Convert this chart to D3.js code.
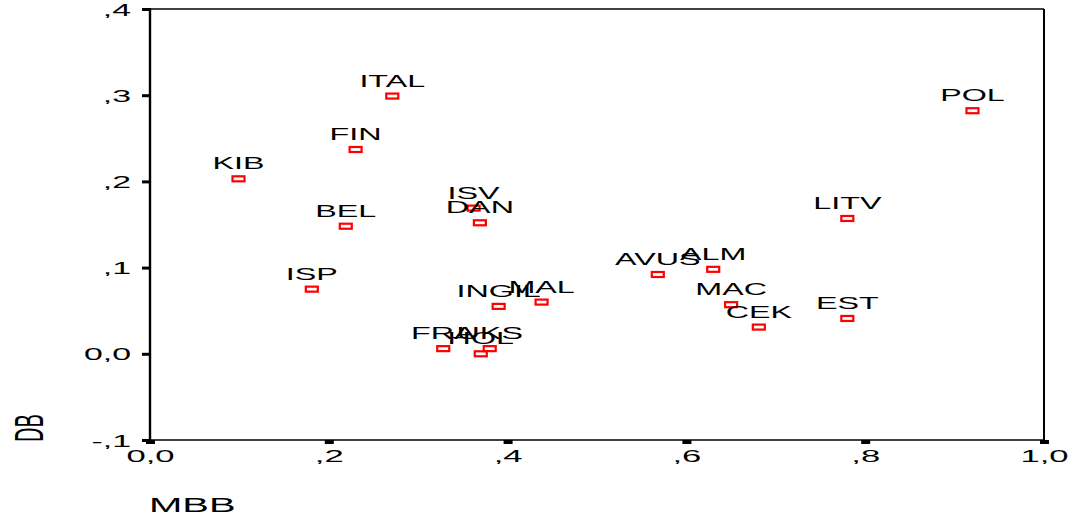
<!DOCTYPE html>
<html>
<head>
<meta charset="utf-8">
<script src="https://cdn.jsdelivr.net/npm/d3@7"></script>
<style>
  body { margin: 0; background: #fff; }
  text { font-family: "Liberation Sans", Arial, sans-serif; fill: #000; }
</style>
</head>
<body>
<svg class="scatter_svg" width="1085" height="521"></svg>
<script>
// values
var countries = ["ITAL", "FIN", "KIB", "BEL", "ISP", "ISV", "DAN", "INGIL", "MAL", "FRA",
                 "HOL", "UKS", "AVUS", "ALM", "MAC", "CEK", "EST", "LITV", "POL"];
var mbb = [0.271, 0.230, 0.099, 0.219, 0.181, 0.362, 0.369, 0.390, 0.438, 0.328,
           0.370, 0.380, 0.568, 0.630, 0.650, 0.681, 0.780, 0.780, 0.920];
var db  = [0.299, 0.237, 0.203, 0.148, 0.075, 0.169, 0.152, 0.055, 0.060, 0.006,
           0.000, 0.006, 0.092, 0.098, 0.057, 0.031, 0.041, 0.157, 0.282];

var xTicks = [0, 0.2, 0.4, 0.6, 0.8, 1.0];
var xTickLabels = ["0,0", ",2", ",4", ",6", ",8", "1,0"];
var yTicks = [-0.1, 0, 0.1, 0.2, 0.3, 0.4];
var yTickLabels = ["-,1", "0,0", ",1", ",2", ",3", ",4"];

var svg = d3.select(".scatter_svg");

var x = d3.scaleLinear().domain([0, 1]).range([150, 1044]);
var y = d3.scaleLinear().domain([-0.1, 0.4]).range([440, 9]);

// frame
svg.append("line").attr("x1", 150).attr("x2", 1044).attr("y1", 9).attr("y2", 9)
    .attr("stroke", "#000").attr("stroke-width", 1.3);
svg.append("line").attr("x1", 1044).attr("x2", 1044).attr("y1", 9).attr("y2", 440)
    .attr("stroke", "#000").attr("stroke-width", 2);
svg.append("line").attr("x1", 150).attr("x2", 1045).attr("y1", 440).attr("y2", 440)
    .attr("stroke", "#000").attr("stroke-width", 1.5);
svg.append("line").attr("x1", 150).attr("x2", 150).attr("y1", 8).attr("y2", 441)
    .attr("stroke", "#000").attr("stroke-width", 2.4);

// y axis
var gy = svg.append("g")
    .attr("transform", "translate(150,0)")
    .call(d3.axisLeft(y).tickValues(yTicks).tickSize(8)
        .tickFormat(function (d, i) { return yTickLabels[i]; }));
gy.select(".domain").remove();
gy.selectAll(".tick line").attr("stroke-width", 3);
gy.selectAll(".tick text")
    .attr("x", 0).attr("dy", null)
    .attr("transform", "translate(-19,6) scale(2.05,1)")
    .attr("font-size", null).attr("font-family", null)
    .style("font-size", "16.5px");

// x axis
var gx = svg.append("g")
    .attr("transform", "translate(0,440)")
    .call(d3.axisBottom(x).tickValues(xTicks).tickSize(4)
        .tickFormat(function (d, i) { return xTickLabels[i]; }));
gx.select(".domain").remove();
gx.selectAll(".tick line").attr("stroke-width", 9);
gx.selectAll(".tick text")
    .attr("y", 0).attr("dy", null)
    .attr("transform", "translate(0,22) scale(2.1,1)")
    .attr("font-size", null).attr("font-family", null)
    .style("font-size", "16.5px");

// axis titles
svg.append("text")
    .text("MBB")
    .attr("transform", "translate(149,512) scale(2,1)")
    .style("font-size", "20px");
svg.append("text")
    .text("DB")
    .attr("text-anchor", "middle")
    .attr("transform", "translate(43,428) scale(2,1) rotate(-90)")
    .style("font-size", "20px");

// points
var pts = countries.map(function (c, i) { return { name: c, x: mbb[i], y: db[i] }; });

svg.append("g").selectAll("rect")
    .data(pts).enter().append("rect")
    .attr("x", function (d) { return x(d.x) - 6; })
    .attr("y", function (d) { return y(d.y) - 2.5; })
    .attr("width", 12)
    .attr("height", 5)
    .attr("fill", "none")
    .attr("stroke", "#ff0000")
    .attr("stroke-width", 2.2);

svg.append("g").selectAll("text")
    .data(pts).enter().append("text")
    .text(function (d) { return d.name; })
    .attr("text-anchor", "middle")
    .attr("transform", function (d) {
        return "translate(" + x(d.x) + "," + (y(d.y) - 9.5) + ") scale(1.9,1)";
    })
    .style("font-size", "17px");
</script>
</body>
</html>
